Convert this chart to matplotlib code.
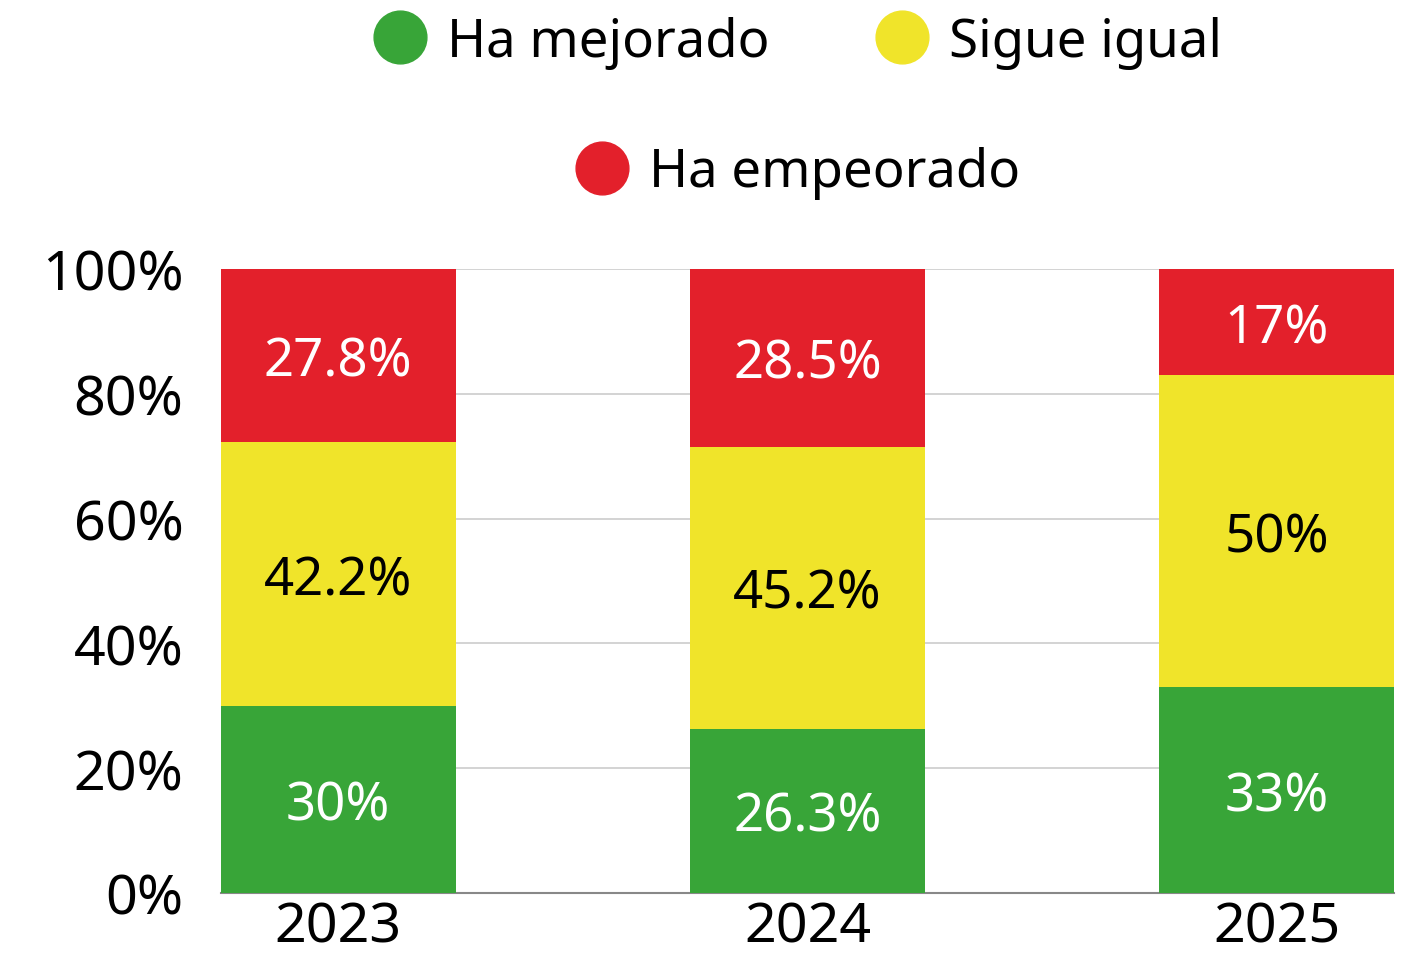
import matplotlib
matplotlib.use("Agg")
import matplotlib.pyplot as plt
from matplotlib.lines import Line2D
import numpy as np

plt.rcParams['font.family'] = ['Noto Sans', 'DejaVu Sans']

# data
years = ["2023", "2024", "2025"]
mejorado = [30, 26.3, 33]
igual = [42.2, 45.2, 50]
empeorado = [27.8, 28.5, 17]
labels_mejorado = ["30%", "26.3%", "33%"]
labels_igual = ["42.2%", "45.2%", "50%"]
labels_empeorado = ["27.8%", "28.5%", "17%"]
series_names = ["Ha mejorado", "Sigue igual", "Ha empeorado"]

c_green = "#38A538"
c_yellow = "#F0E42A"
c_red = "#E3202B"

fig = plt.figure(figsize=(14.02, 9.62), dpi=100)
ax = fig.add_axes([221/1402, 68/962, (1394-221)/1402, (894-270)/962])

x = np.arange(len(years))
w = 0.5
ax.bar(x, mejorado, w, color=c_green, zorder=3)
bottom2 = np.array(mejorado)
ax.bar(x, igual, w, bottom=bottom2, color=c_yellow, zorder=3)
bottom3 = bottom2 + np.array(igual)
ax.bar(x, empeorado, w, bottom=bottom3, color=c_red, zorder=3)

fs = 40
lfs = 38
for i in range(len(years)):
    ax.text(x[i], mejorado[i]/2, labels_mejorado[i], ha="center", va="center_baseline",
            color="white", fontsize=lfs, zorder=4)
    ax.text(x[i], bottom2[i] + igual[i]/2, labels_igual[i], ha="center", va="center_baseline",
            color="black", fontsize=lfs, zorder=4)
    ax.text(x[i], bottom3[i] + empeorado[i]/2, labels_empeorado[i], ha="center",
            va="center_baseline", color="white", fontsize=lfs, zorder=4)

ax.set_xlim(-0.25, 2.25)
ax.set_ylim(0, 100)
ax.set_yticks([0, 20, 40, 60, 80, 100])
ax.set_yticklabels(["0%", "20%", "40%", "60%", "80%", "100%"])
ax.set_xticks(x)
ax.set_xticklabels(years)
ax.tick_params(axis="y", length=0, labelsize=fs, pad=27)
ax.tick_params(axis="x", length=0, labelsize=fs, pad=5)
ax.yaxis.grid(True, color="#cccccc", linewidth=1.2, zorder=0)
for s in ["top", "right", "left"]:
    ax.spines[s].set_visible(False)
ax.spines["bottom"].set_color("#888888")
ax.spines["bottom"].set_linewidth(1.5)

def handle(c):
    return Line2D([], [], marker="o", linestyle="", markersize=38, markerfacecolor=c,
                  markeredgecolor=c)

fig.legend([handle(c_green), handle(c_yellow)], series_names[:2], ncol=2,
           loc="center", bbox_to_anchor=(795/1402, 1 - 43/962), frameon=False,
           fontsize=lfs, handletextpad=0.3, columnspacing=1.9, handlelength=1.2)
fig.legend([handle(c_red)], series_names[2:], loc="center",
           bbox_to_anchor=(795/1402, 1 - 174/962), frameon=False,
           fontsize=lfs, handletextpad=0.3, handlelength=1.2)

fig.savefig("out.png", dpi=100)
